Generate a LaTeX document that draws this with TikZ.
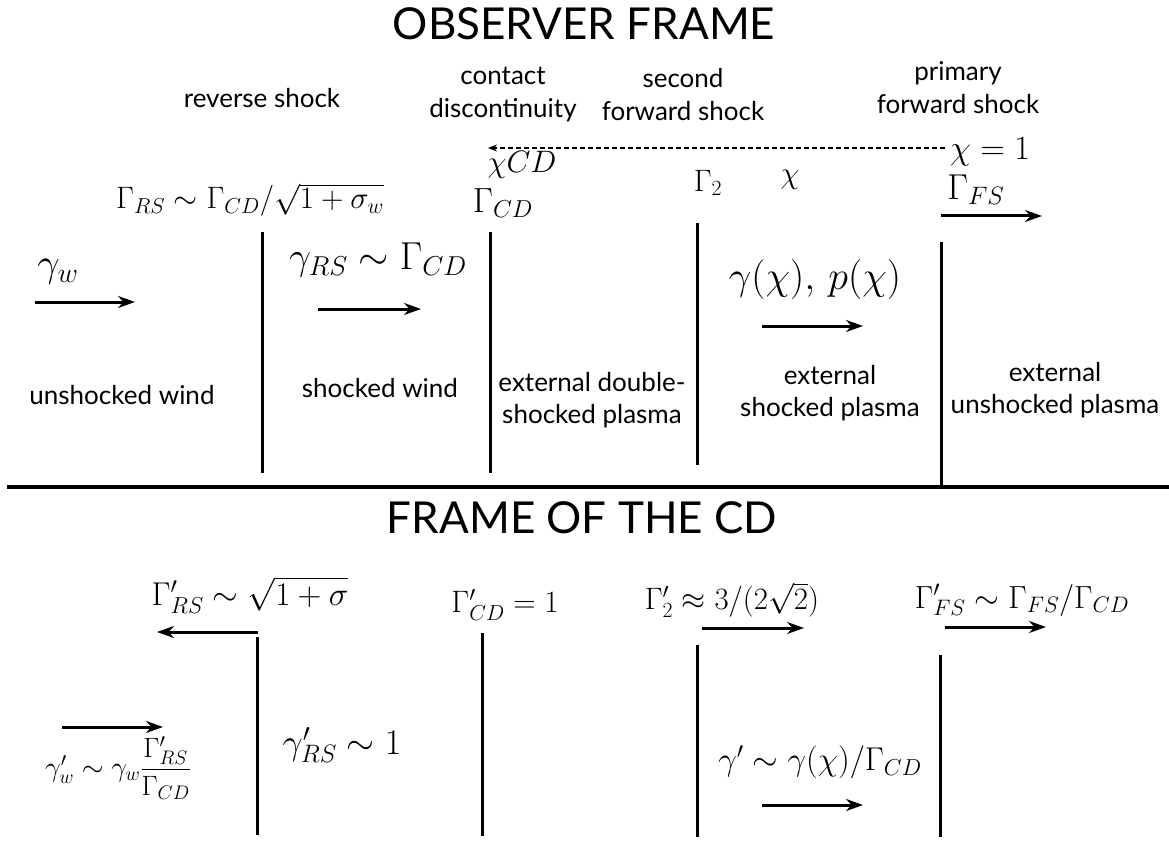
\documentclass[tikz,border=0pt]{standalone}
\usepackage{fix-cm}
\usepackage{fontspec}
\newfontfamily\gillfont{Lato}
\usetikzlibrary{arrows.meta, positioning}

\begin{document}
\begin{tikzpicture}[
    x=1pt, y=-1pt,
    >={Stealth[length=17pt, width=12pt]},
    title/.style={font=\gillfont\fontsize{44}{48}\selectfont},
    shocklabel/.style={font=\gillfont\fontsize{26}{33}\selectfont, align=center},
    region/.style={font=\gillfont\fontsize{26}{32}\selectfont, align=center},
    mathlabel/.style={font=\fontsize{31}{36}\selectfont},
    mathbig/.style={font=\fontsize{40}{44}\selectfont},
    shockline/.style={line width=3pt},
    flow/.style={->, line width=3pt},
    dasharw/.style={-{Stealth[length=9pt, width=7pt]}, line width=1.5pt, dash pattern=on 5pt off 3pt},
    sep/.style={line width=3.5pt},
]
\useasboundingbox (0,0) rectangle (1169,842);

% === Observer frame ===
\node[title] (obs) at (584,24) {OBSERVER FRAME};

\node[shocklabel] (rslab) at (262,98) {reverse shock};
\node[shocklabel] (cdlab) at (503,95) {contact\\discontinuity};
\node[shocklabel] (sfslab) at (683,95) {second\\forward shock};
\node[shocklabel] (pfslab) at (958,88) {primary\\forward shock};

% chi runs from the FS back to the CD
\node[mathlabel, font=\fontsize{34}{38}\selectfont] (chione) at (990,152) {$\chi = 1$};
\node[mathlabel] (chicd) at (522,165) {$\chi CD$};
\coordinate (chiA) at (945,148);
\coordinate (chiB) at (488,148);
\draw[dasharw] (chiA) -- (chiB);

\node[mathlabel] (grs) at (250,200) {$\Gamma_{RS}\sim\Gamma_{CD}/\sqrt{1+\sigma_w}$};
\node[mathlabel, font=\fontsize{35}{38}\selectfont] (gcd) at (503,203) {$\Gamma_{CD}$};
\node[mathlabel] (gtwo) at (708,183) {$\Gamma_2$};
\node[mathlabel] (chi) at (790,180) {$\chi$};
\node[mathlabel, font=\fontsize{36}{40}\selectfont] (gfs) at (976,190) {$\Gamma_{FS}$};

% shock fronts
\coordinate (rsT) at (262,232);  \coordinate (rsB) at (262,473);
\coordinate (cdT) at (490,232);  \coordinate (cdB) at (490,473);
\coordinate (sfT) at (697,223);  \coordinate (sfB) at (697,465);
\coordinate (fsT) at (941,242);  \coordinate (fsB) at (941,486);
\draw[shockline] (rsT) -- (rsB);
\draw[shockline] (cdT) -- (cdB);
\draw[shockline] (sfT) -- (sfB);
\draw[shockline] (fsT) -- (fsB);

% velocities
\coordinate (fsvA) at (941,216);  \coordinate (fsvB) at (1042,216);
\draw[flow] (fsvA) -- (fsvB);

\node[mathlabel, font=\fontsize{40}{44}\selectfont] (gw) at (58,272) {$\gamma_w$};
\coordinate (wA) at (35,302);  \coordinate (wB) at (135,302);
\draw[flow] (wA) -- (wB);

\node[mathlabel, font=\fontsize{39}{43}\selectfont] (grsv) at (378,260) {$\gamma_{RS}\sim\Gamma_{CD}$};
\coordinate (swA) at (318,309);  \coordinate (swB) at (421,309);
\draw[flow] (swA) -- (swB);

\node[mathbig] (gchi) at (815,280) {$\gamma(\chi),\, p(\chi)$};
\coordinate (esA) at (762,326);  \coordinate (esB) at (863,326);
\draw[flow] (esA) -- (esB);

% regions
\node[region] (uw) at (122,395) {unshocked wind};
\node[region] (sw) at (380,388) {shocked wind};
\node[region] (eds) at (592,400) {external double-\\shocked plasma};
\node[region] (es) at (830,393) {external\\shocked plasma};
\node[region] (eu) at (1055,390) {external\\unshocked plasma};

\coordinate (sepL) at (7,487);  \coordinate (sepR) at (1169,487);
\draw[sep] (sepL) -- (sepR);

% === Frame of the CD ===
\node[title] (cdf) at (582,518) {FRAME OF THE CD};

\node[mathlabel, font=\fontsize{33}{36}\selectfont] (grsp) at (250,595) {$\Gamma'_{RS}\sim\sqrt{1+\sigma}$};
\coordinate (rspA) at (258,632);  \coordinate (rspB) at (157,632);
\draw[flow] (rspA) -- (rspB);
\coordinate (rspT) at (257,637);  \coordinate (rspD) at (257,835);
\draw[shockline] (rspT) -- (rspD);

\coordinate (wpA) at (62,727);  \coordinate (wpB) at (163,727);
\draw[flow] (wpA) -- (wpB);
\node[mathlabel, font=\fontsize{28}{32}\selectfont] (gwp) at (118,768)
    {$\gamma'_w\sim\gamma_w{\displaystyle\frac{\Gamma'_{RS}}{\Gamma_{CD}}}$};
\node[mathlabel, font=\fontsize{36}{40}\selectfont] (grsvp) at (342,745) {$\gamma'_{RS}\sim 1$};

\node[mathlabel] (gcdp) at (505,605) {$\Gamma'_{CD}=1$};
\coordinate (cdpT) at (482,633);  \coordinate (cdpB) at (482,836);
\draw[shockline] (cdpT) -- (cdpB);

\node[mathlabel] (gtwop) at (732,600) {$\Gamma'_2\approx 3/(2\sqrt{2})$};
\coordinate (sfpA) at (702,628);  \coordinate (sfpB) at (804,628);
\draw[flow] (sfpA) -- (sfpB);
\coordinate (sfpT) at (697,645);  \coordinate (sfpD) at (697,837);
\draw[shockline] (sfpT) -- (sfpD);

\node[mathlabel, font=\fontsize{32}{36}\selectfont] (gfsp) at (1022,600) {$\Gamma'_{FS}\sim\Gamma_{FS}/\Gamma_{CD}$};
\coordinate (fspA) at (945,627);  \coordinate (fspB) at (1046,627);
\draw[flow] (fspA) -- (fspB);
\coordinate (fspT) at (940,655);  \coordinate (fspD) at (940,837);
\draw[shockline] (fspT) -- (fspD);

\node[mathlabel, font=\fontsize{33}{36}\selectfont] (gp) at (820,762) {$\gamma'\sim\gamma(\chi)/\Gamma_{CD}$};
\coordinate (espA) at (762,805);  \coordinate (espB) at (863,805);
\draw[flow] (espA) -- (espB);

\end{tikzpicture}
\end{document}
